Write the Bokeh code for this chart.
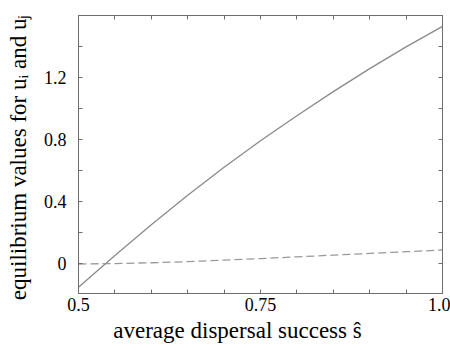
from bokeh.plotting import figure
from bokeh.models import FixedTicker, LinearAxis, Range1d
from bokeh.embed import file_html
from bokeh.resources import INLINE

s_vals = [0.5, 0.55, 0.6, 0.65, 0.7, 0.75, 0.8, 0.85, 0.9, 0.95, 1.0]
u_solid = [-0.15, 0.055, 0.253, 0.443, 0.623, 0.793, 0.955, 1.11, 1.258, 1.398, 1.53]
u_dashed = [0.0, 0.003, 0.008, 0.015, 0.025, 0.035, 0.046, 0.057, 0.068, 0.079, 0.09]

x_ticks = [0.5, 0.55, 0.6, 0.65, 0.7, 0.75, 0.8, 0.85, 0.9, 0.95, 1.0]
x_labels = {0.5: "0.5", 0.75: "0.75", 1.0: "1.0"}
y_ticks = [0.0, 0.2, 0.4, 0.6, 0.8, 1.0, 1.2, 1.4]
y_labels = {0.0: "0", 0.4: "0.4", 0.8: "0.8", 1.2: "1.2"}

FONT = "'Liberation Serif', 'Times New Roman', serif"
GRAY = "#6e6e6e"

p = figure(width=450, height=350, output_backend="svg", toolbar_location=None,
           x_range=Range1d(0.5, 1.0), y_range=Range1d(-0.19, 1.6),
           x_axis_label="average dispersal success ŝ\u2003\u2003",
           y_axis_label="equilibrium values for uᵢ  and uⱼ",
           min_border_left=78, min_border_right=8, min_border_top=15, min_border_bottom=57)
p.grid.visible = False
p.outline_line_color = GRAY
p.background_fill_color = "white"

def style(ax, ticks, labels, show):
    ax.ticker = FixedTicker(ticks=ticks)
    ax.major_label_overrides = {t: (labels.get(t, "") if show else "") for t in ticks}
    ax.major_tick_in = 4
    ax.major_tick_out = 0
    ax.minor_tick_in = 0
    ax.minor_tick_out = 0
    ax.axis_line_color = GRAY
    ax.major_tick_line_color = GRAY
    ax.major_label_text_font = FONT
    ax.major_label_text_font_size = "18px"
    ax.major_label_text_color = "black"
    ax.axis_label_text_font = FONT
    ax.axis_label_text_font_size = "23px"
    ax.axis_label_text_font_style = "normal"
    ax.axis_label_text_color = "black"

style(p.xaxis[0], x_ticks, x_labels, True)
style(p.yaxis[0], y_ticks, y_labels, True)
p.xaxis[0].major_label_standoff = 4
p.yaxis[0].major_label_standoff = 12
p.xaxis[0].axis_label_standoff = 4
p.yaxis[0].axis_label_standoff = 10

top = LinearAxis()
style(top, x_ticks, x_labels, False)
p.add_layout(top, "above")
right = LinearAxis()
style(right, y_ticks, y_labels, False)
p.add_layout(right, "right")

p.line(s_vals, u_solid, line_color="#8a8a8a", line_width=1.3)
p.line(s_vals, u_dashed, line_color="#999999", line_width=1.3, line_dash="8 4")

open("out.html", "w").write(file_html(p, INLINE))
